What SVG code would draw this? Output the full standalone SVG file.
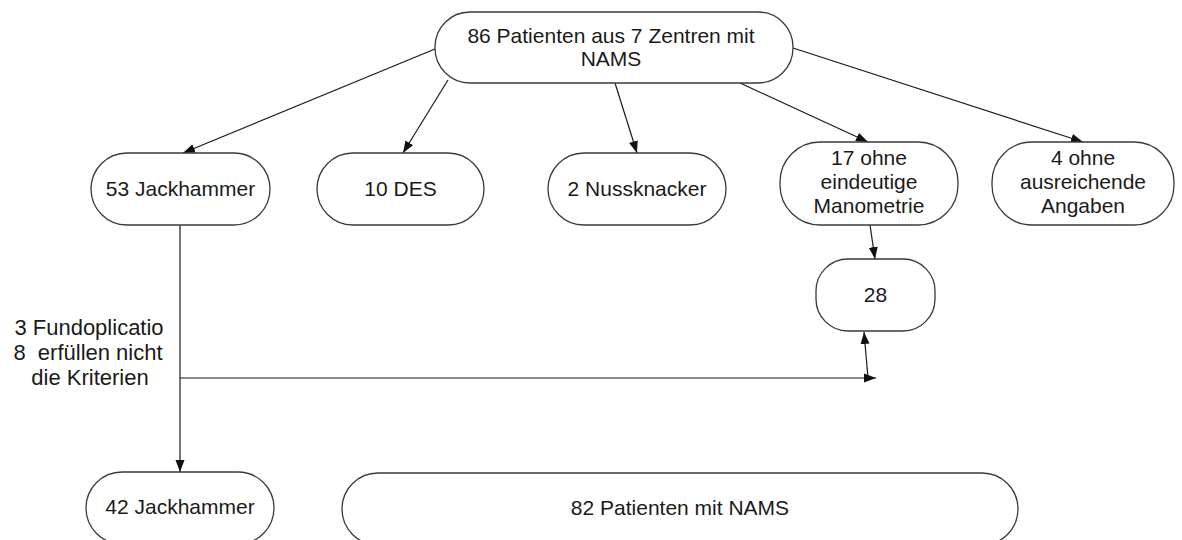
<svg xmlns="http://www.w3.org/2000/svg" width="1182" height="540" viewBox="0 0 1182 540">
<defs>
<style>
.n{fill:#fff;stroke:#3a3a3a;stroke-width:1.3}
.t{font-family:"Liberation Sans",Arial,sans-serif;font-size:21px;fill:#1a1a1a;text-anchor:middle}
.l{font-size:22px}
.c{stroke:#1a1a1a;stroke-width:1.2;fill:none}
</style>
<marker id="ah" viewBox="0 0 12 10" refX="12" refY="5" markerWidth="12" markerHeight="10" markerUnits="userSpaceOnUse" orient="auto">
<path d="M0,0.5 L12,5 L0,9.5 Z" fill="#111"/>
</marker>
</defs>
<rect width="1182" height="540" fill="#fff"/>
<g id="connectors">
<line class="c" x1="435" y1="49" x2="183" y2="153" marker-end="url(#ah)"/>
<line class="c" x1="448" y1="80" x2="403" y2="153" marker-end="url(#ah)"/>
<line class="c" x1="615" y1="83" x2="637" y2="153" marker-end="url(#ah)"/>
<line class="c" x1="740" y1="83" x2="868" y2="142" marker-end="url(#ah)"/>
<line class="c" x1="793" y1="48" x2="1083" y2="142" marker-end="url(#ah)"/>
<line class="c" x1="870" y1="225" x2="875" y2="259" marker-end="url(#ah)"/>
<line class="c" x1="180" y1="225" x2="180" y2="472" marker-end="url(#ah)"/>
<line class="c" x1="180" y1="378" x2="876" y2="378" marker-end="url(#ah)"/>
<line class="c" x1="868" y1="378" x2="864" y2="332" marker-end="url(#ah)"/>
</g>
<g id="label-excluded">
<text class="t l" x="89" y="335">3 Fundoplicatio</text>
<text class="t l" x="88" y="360" style="white-space:pre">8  erfüllen nicht</text>
<text class="t l" x="90" y="385">die Kriterien</text>
</g>
<g id="n-top">
<rect class="n" x="435" y="12" width="358" height="71" rx="35" ry="35"/>
<text class="t" x="611" y="43">86 Patienten aus 7 Zentren mit</text>
<text class="t" x="611" y="66">NAMS</text>
</g>
<g id="n-jack53">
<rect class="n" x="91" y="153" width="179" height="72" rx="36" ry="36"/>
<text class="t" x="180.5" y="196">53 Jackhammer</text>
</g>
<g id="n-des">
<rect class="n" x="317" y="153" width="167" height="72" rx="36" ry="36"/>
<text class="t" x="400.5" y="196">10 DES</text>
</g>
<g id="n-nuss">
<rect class="n" x="548" y="153" width="178" height="72" rx="36" ry="36"/>
<text class="t" x="637" y="196">2 Nussknacker</text>
</g>
<g id="n-ohne17">
<rect class="n" x="780" y="142" width="178" height="83" rx="40" ry="40"/>
<text class="t" x="869" y="165">17 ohne</text>
<text class="t" x="869" y="189">eindeutige</text>
<text class="t" x="869" y="213">Manometrie</text>
</g>
<g id="n-ohne4">
<rect class="n" x="992" y="142" width="182" height="83" rx="40" ry="40"/>
<text class="t" x="1083" y="165">4 ohne</text>
<text class="t" x="1083" y="189">ausreichende</text>
<text class="t" x="1083" y="213">Angaben</text>
</g>
<g id="n-28">
<rect class="n" x="816" y="259" width="119" height="72" rx="32" ry="32"/>
<text class="t" x="875.5" y="302">28</text>
</g>
<g id="n-jack42">
<rect class="n" x="86" y="472" width="188" height="72" rx="36" ry="36"/>
<text class="t" x="180" y="514">42 Jackhammer</text>
</g>
<g id="n-nams82">
<rect class="n" x="342" y="473" width="676" height="72" rx="36" ry="36"/>
<text class="t" x="680" y="515">82 Patienten mit NAMS</text>
</g>
</svg>
